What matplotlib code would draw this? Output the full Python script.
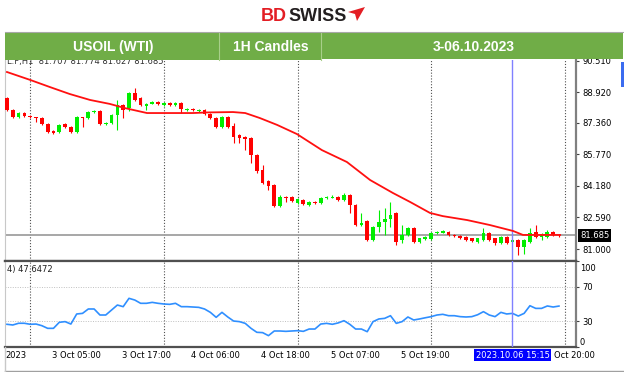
import matplotlib
matplotlib.use("Agg")
import matplotlib.pyplot as plt
import matplotlib.transforms as mtransforms
from matplotlib.patches import Rectangle, Polygon
from matplotlib.lines import Line2D

W, H = 624, 372

# ---------------- data ----------------
opens = [88.62, 88.01, 87.66, 87.86, 87.71, 87.66, 87.61, 87.31, 86.95, 86.90,
         87.31, 87.16, 86.90, 87.66, 87.61, 87.91, 87.96, 87.31, 87.36, 87.76,
         88.27, 88.10, 88.87, 88.62, 88.22, 88.32, 88.42, 88.27, 88.37, 88.27,
         88.37, 88.01, 88.06, 87.96, 88.01, 87.81, 87.61, 87.16, 87.68, 87.21,
         86.75, 86.65, 86.60, 85.74, 84.99, 84.43, 84.23, 83.17, 83.62, 83.62,
         83.32, 83.47, 83.22, 83.37, 83.32, 83.57, 83.59, 83.62, 83.47, 83.72,
         83.22, 82.21, 82.41, 81.45, 82.11, 82.36, 82.51, 82.82, 81.45, 81.71,
         82.06, 81.35, 81.50, 81.50, 81.81, 81.83, 81.86, 81.71, 81.66, 81.60,
         81.55, 81.35, 81.45, 81.81, 81.55, 81.30, 81.60, 81.35, 81.45, 81.10,
         81.35, 81.86, 81.60, 81.60, 81.86, 81.707]
closes = [88.01, 87.66, 87.86, 87.71, 87.66, 87.61, 87.31, 86.90, 86.85, 87.26,
          87.16, 86.90, 87.66, 87.61, 87.91, 87.96, 87.31, 87.36, 87.76, 88.27,
          88.01, 88.87, 88.52, 88.27, 88.32, 88.42, 88.32, 88.37, 88.27, 88.37,
          88.06, 88.06, 88.01, 88.01, 87.81, 87.61, 87.16, 87.68, 87.17, 86.65,
          86.60, 86.55, 85.74, 84.94, 84.33, 84.18, 83.17, 83.62, 83.57, 83.42,
          83.52, 83.27, 83.37, 83.30, 83.57, 83.64, 83.64, 83.47, 83.72, 83.22,
          82.21, 82.31, 81.45, 82.11, 82.36, 82.51, 82.72, 81.35, 81.71, 82.06,
          81.35, 81.55, 81.60, 81.81, 81.86, 81.91, 81.71, 81.66, 81.55, 81.45,
          81.40, 81.55, 81.81, 81.45, 81.30, 81.60, 81.30, 81.45, 81.10, 81.45,
          81.81, 81.60, 81.71, 81.86, 81.71, 81.685]
highs = [88.66, 88.05, 87.90, 87.90, 87.74, 87.68, 87.64, 87.34, 86.98, 87.30,
         87.34, 87.20, 87.70, 87.68, 87.95, 88.01, 88.00, 87.40, 87.80, 88.52,
         88.30, 88.90, 89.12, 88.65, 88.36, 88.47, 88.47, 88.40, 88.40, 88.42,
         88.40, 88.10, 88.10, 88.04, 88.04, 87.84, 87.64, 87.72, 87.72, 87.36,
         86.78, 86.68, 86.63, 85.78, 85.24, 84.46, 84.26, 83.72, 83.67, 83.65,
         83.56, 83.50, 83.40, 83.40, 83.60, 83.67, 83.72, 83.65, 83.82, 83.80,
         83.25, 82.82, 82.44, 82.14, 82.97, 83.07, 83.37, 82.87, 82.21, 82.11,
         82.11, 81.58, 81.64, 81.86, 81.91, 81.96, 81.89, 81.74, 81.69, 81.64,
         81.58, 81.58, 82.06, 81.86, 81.58, 81.64, 81.64, 81.48, 81.48, 81.50,
         82.06, 82.21, 81.81, 81.96, 81.89, 81.774]
lows = [87.98, 87.61, 87.62, 87.68, 87.62, 87.41, 87.28, 86.86, 86.80, 86.86,
        87.12, 86.86, 86.86, 87.16, 87.58, 87.86, 87.28, 87.28, 87.33, 87.00,
        87.61, 87.98, 88.48, 88.22, 88.01, 88.30, 88.28, 88.22, 88.24, 88.24,
        87.86, 87.96, 87.98, 87.93, 87.78, 87.58, 87.12, 87.12, 87.12, 86.35,
        86.35, 86.00, 85.34, 84.84, 84.30, 83.98, 83.14, 83.14, 83.37, 83.38,
        83.28, 83.24, 83.18, 83.27, 83.29, 83.54, 83.56, 83.44, 83.44, 82.82,
        82.18, 82.18, 81.42, 81.42, 81.86, 81.71, 82.11, 81.20, 81.30, 81.66,
        81.30, 81.30, 81.45, 81.45, 81.78, 81.80, 81.68, 81.62, 81.52, 81.42,
        81.36, 81.30, 81.42, 81.42, 81.20, 81.27, 81.27, 81.32, 80.70, 80.75,
        81.30, 81.55, 81.45, 81.55, 81.68, 81.627]

ma_idx = [0, 4.0, 7.4, 10.8, 14.3, 17.7, 20.3, 24.1, 26.9, 32.0, 34.4, 38.9, 41.0,
          43.5, 46.5, 49.9, 54.2, 58.5, 62.5, 66.4, 69.4, 72.8, 75.0, 79.2, 83.1,
          87.1, 88.8, 95.2]
ma_val = [89.93, 89.53, 89.17, 88.82, 88.52, 88.32, 88.11, 87.86, 87.86, 87.86, 87.89,
          87.91, 87.86, 87.61, 87.26, 86.80, 85.99, 85.39, 84.48, 83.83, 83.37, 82.82,
          82.66, 82.46, 82.21, 81.91, 81.71, 81.71]

rsi = [26.4, 25.6, 27.6, 27.6, 26.4, 26.7, 24.8, 21.7, 21.7, 28.7,
       29.5, 26.7, 38.4, 39.1, 44.2, 44.2, 37.2, 37.2, 43.0, 48.8,
       46.9, 56.6, 54.6, 50.8, 50.8, 51.9, 50.8, 50.0, 49.6, 50.8,
       46.9, 46.9, 46.5, 46.1, 44.2, 40.3, 34.5, 40.3, 34.9, 30.2,
       29.5, 27.5, 21.7, 17.1, 16.7, 13.2, 18.6, 18.6, 18.2, 18.6,
       19.0, 18.2, 20.9, 20.9, 26.7, 27.5, 26.4, 28.0, 30.6, 26.4,
       20.9, 20.9, 17.8, 29.5, 32.6, 33.3, 36.4, 27.5, 29.5, 34.9,
       31.4, 32.6, 34.0, 35.3, 37.2, 38.0, 36.4, 36.4, 35.3, 34.9,
       35.3, 37.5, 41.1, 37.2, 35.3, 40.3, 38.4, 39.1, 36.0, 39.1,
       48.0, 44.9, 44.9, 47.7, 46.5, 47.6]

price_ticks = [81.000, 82.590, 84.180, 85.770, 87.360, 88.920, 90.510]
rsi_ticks = [30, 70]
rsi_edge_labels = ["100", "0"]
time_labels = ["3 Oct 05:00", "3 Oct 17:00", "4 Oct 06:00", "4 Oct 18:00",
               "5 Oct 07:00", "5 Oct 19:00"]
first_label = "2023"
end_label = "Oct 20:00"
last_price = 81.685
rsi_text = "4) 47.6472"
ohlc_text = "L.F,H1  81.707 81.774 81.627 81.685"
cursor_idx = 87
cursor_label = "2023.10.06 15:15"
grid_idx = [4, 27, 50, 73, 96]
header_texts = ["USOIL (WTI)", "1H Candles", "3-06.10.2023"]

# ---------------- figure ----------------
fig = plt.figure(figsize=(W / 100, H / 100), dpi=100)
fig.patch.set_facecolor("white")

def fx(x):
    return x / W

def fy(y):
    return 1 - y / H

ax = fig.add_axes([fx(5), fy(261), 571 / W, 201 / H])
ax2 = fig.add_axes([fx(5), fy(347), 571 / W, 86 / H])
XL = (-0.34, 97.93)

for a in (ax, ax2):
    a.set_xlim(*XL)
    a.set_xticks([])
    a.yaxis.tick_right()
    a.tick_params(axis="y", length=2.5, width=0.8, pad=2, labelsize=6,
                  color="#404040", labelcolor="black")
    a.spines["left"].set_color("#c8c8c8")
    a.spines["right"].set_color("#808080")
    a.spines["right"].set_linewidth(1.6)
    for g in grid_idx:
        a.axvline(g, color="#505050", lw=0.8, ls=(0, (1, 1.6)), zorder=1)
    a.axvline(cursor_idx, color="#8080ff", lw=1.0, zorder=4)

ax.spines["top"].set_visible(False)
ax.spines["bottom"].set_color("#505050")
ax.spines["bottom"].set_linewidth(1.6)
ax2.spines["top"].set_color("#505050")
ax2.spines["top"].set_linewidth(1.6)
ax2.spines["bottom"].set_color("#505050")
ax2.spines["bottom"].set_linewidth(1.6)

# ----- main price panel -----
ax.set_ylim(80.395, 90.536)
ax.set_yticks(price_ticks)
ax.set_yticklabels([f"{v:.3f}" for v in price_ticks])

ax.axhline(last_price, color="#a0a0a0", lw=1.3, zorder=2)

idx = list(range(len(opens)))
for i in idx:
    o, h, l, c = opens[i], highs[i], lows[i], closes[i]
    col = "#00ee00" if c >= o else "#ff0000"
    ax.vlines(i, l, h, color=col, lw=0.8, zorder=3)
    bot = min(o, c)
    hgt = max(abs(c - o), 0.03)
    ax.bar(i, hgt, bottom=bot, width=0.64, color=col, edgecolor="none", zorder=3)

ax.plot(ma_idx, ma_val, color="#ff1010", lw=1.3, zorder=4)

bt = mtransforms.blended_transform_factory(ax.transAxes, ax.transData)
ax.text(1.007, last_price, f"{last_price:.3f}", transform=bt, ha="left", va="center",
        fontsize=6, color="white", clip_on=False, zorder=6,
        bbox=dict(boxstyle="square,pad=0.25", fc="black", ec="none"))

# ----- RSI panel -----
ax2.set_ylim(0, 100)
ax2.set_yticks([0] + rsi_ticks + [100])
ax2.set_yticklabels([""] + [str(v) for v in rsi_ticks] + [""])
for v in rsi_ticks:
    ax2.axhline(v, color="#c0c0c0", lw=0.7, ls=(0, (1, 1.5)), zorder=1)
ax2.plot(idx, rsi, color="#2f8fff", lw=1.2, zorder=3)
bt2 = mtransforms.blended_transform_factory(ax2.transAxes, ax2.transData)
ax2.text(1.0 + 4 / 571, 97, rsi_edge_labels[0], transform=bt2, ha="left", va="top",
         fontsize=6, clip_on=False)
ax2.text(1.0 + 4 / 571, 0, rsi_edge_labels[1], transform=bt2, ha="left", va="bottom",
         fontsize=6, clip_on=False)
ax2.text(0.004, 0.9, rsi_text, transform=ax2.transAxes, ha="left", va="center",
         fontsize=6, color="#202020")

# time labels
bx = mtransforms.blended_transform_factory(ax2.transData, ax2.transAxes)
ty = -0.095
ax2.text(3.44, ty, first_label, transform=bx, ha="right", va="center", fontsize=6,
         clip_on=False)
for k, lab in enumerate(time_labels):
    ax2.text(7.75 + 12 * k, ty, lab, transform=bx, ha="left", va="center",
             fontsize=6, clip_on=False, zorder=5)
ax2.text(94.1, ty, end_label, transform=bx, ha="left", va="center",
         fontsize=6, clip_on=False, zorder=5)
ax2.text(cursor_idx, ty, cursor_label, transform=bx, ha="center", va="center",
         fontsize=6, color="white", clip_on=False, zorder=10,
         bbox=dict(boxstyle="square,pad=0.2", fc="#0000ff", ec="none"))

# ----- figure decorations -----
fig.text(fx(7), fy(61.5), ohlc_text, fontsize=6, color="#303030", ha="left",
         va="center", zorder=0.5)

fig.patches.append(Rectangle((fx(5), fy(60)), 316 / W, 28 / H, transform=fig.transFigure,
                             fc="#70ad47", ec="none", zorder=2))
fig.patches.append(Rectangle((fx(321), fy(59)), 302 / W, 27 / H, transform=fig.transFigure,
                             fc="#70ad47", ec="none", zorder=2))
fig.lines.append(Line2D([fx(5), fx(623)], [fy(32), fy(32)], transform=fig.transFigure,
                        color="#a8a8a8", lw=0.8, zorder=3))
for xd in (219, 321):
    fig.lines.append(Line2D([fx(xd), fx(xd)], [fy(33), fy(60)], transform=fig.transFigure,
                            color="#a8cf8a", lw=0.8, zorder=3))
for txt, xc in zip(header_texts, (113, 270.5, 474)):
    fig.text(fx(xc), fy(47), txt, color="white", fontsize=10, fontweight="bold",
             family="Liberation Sans", ha="center", va="center", zorder=4)

# logo
fig.text(fx(261), fy(20.7), "BD", color="#e31e24", fontsize=13, fontweight="bold",
         family="Liberation Sans", ha="left", va="baseline", zorder=4)
fig.text(fx(288.5), fy(20.7), "SWISS", color="#231f20", fontsize=13, fontweight="bold",
         family="Liberation Sans", ha="left", va="baseline", zorder=4)
fig.patches.append(Polygon([(fx(348), fy(12)), (fx(365), fy(7)), (fx(357), fy(21)),
                            (fx(355), fy(14))], closed=True, transform=fig.transFigure,
                           fc="#e31e24", ec="none", zorder=4))

# right-edge blue marker
fig.patches.append(Rectangle((fx(621), fy(87)), 3 / W, 25 / H, transform=fig.transFigure,
                             fc="#3b6cf0", ec="none", zorder=3))
# bottom & left frame lines
fig.lines.append(Line2D([fx(5), fx(624)], [fy(371), fy(371)], transform=fig.transFigure,
                        color="#a0a0a0", lw=1.0, zorder=3))
fig.lines.append(Line2D([fx(5), fx(5)], [fy(347), fy(371)], transform=fig.transFigure,
                        color="#c8c8c8", lw=1.0, zorder=3))

fig.savefig("out.png", dpi=100)
